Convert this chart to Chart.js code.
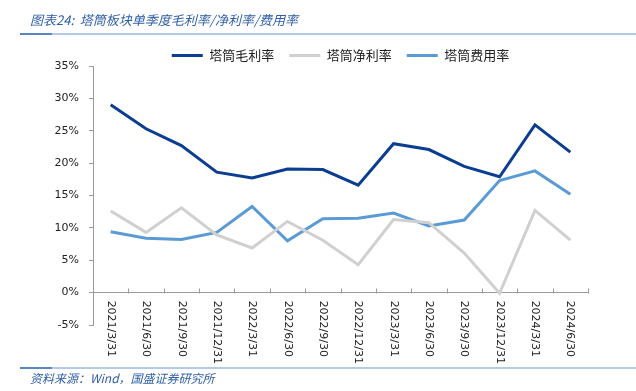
<!DOCTYPE html>
<html lang="zh">
<head>
  <meta charset="UTF-8">
  <title>塔筒板块单季度毛利率/净利率/费用率</title>
  <script src="https://cdn.jsdelivr.net/npm/chart.js"></script>
  <style>
    html, body { margin: 0; padding: 0; background: #fff; }
    body { width: 636px; height: 391px; position: relative; overflow: hidden; font-family: 'Noto Sans CJK SC', 'DejaVu Sans', sans-serif; }
    .title { position: absolute; left: 30px; top: 10px; font-size: 13px; font-style: italic; color: #2f5ea8; white-space: nowrap; line-height: 20px; }
    .rule { position: absolute; left: 20px; width: 616px; height: 2px; background: #b4c9e6; }
    .rule .dark { position: absolute; left: 0; top: 0; width: 32px; height: 2px; background: #5b86c4; }
    .source { position: absolute; left: 30px; top: 369px; font-size: 12px; font-style: italic; color: #2f5ea8; white-space: nowrap; line-height: 18px; }
    #wrap { position: absolute; left: 0; top: 0; width: 636px; height: 391px; }
  </style>
</head>
<body>

<div id="wrap"><canvas id="towerChart"></canvas></div>
<div class="title">图表24:&nbsp; 塔筒板块单季度毛利率/净利率/费用率</div>
<div class="rule" style="top:33px"><div class="dark"></div></div>
<div class="rule" style="top:367px"><div class="dark"></div></div>
<div class="source">资料来源：Wind，国盛证券研究所</div>

<script>
const quarters = ['2021/3/31','2021/6/30','2021/9/30','2021/12/31','2022/3/31','2022/6/30','2022/9/30',
                  '2022/12/31','2023/3/31','2023/6/30','2023/9/30','2023/12/31','2024/3/31','2024/6/30'];
const grossMargin = [29.0, 25.3, 22.7, 18.6, 17.7, 19.1, 19.0, 16.6, 23.0, 22.1, 19.5, 17.9, 25.9, 21.7];
const netMargin   = [12.6, 9.3, 13.1, 8.9, 6.9, 11.0, 8.1, 4.3, 11.3, 10.8, 6.1, -0.1, 12.7, 8.1];
const expenseRate = [9.4, 8.4, 8.2, 9.3, 13.3, 8.0, 11.4, 11.5, 12.3, 10.3, 11.2, 17.3, 18.8, 15.2];
const yTicks = [-5, 0, 5, 10, 15, 20, 25, 30, 35];

const axisGrey = '#9a9a9a';
const tickFont = { family: 'DejaVu Sans', size: 11 };

// axis line at 0% with small upward tick marks between the quarters
const zeroAxis = {
  id: 'zeroAxis',
  beforeDatasetsDraw(chart) {
    const { ctx, scales: { x, y } } = chart;
    const y0 = Math.round(y.getPixelForValue(0)) + 0.5;
    ctx.save();
    ctx.strokeStyle = axisGrey;
    ctx.lineWidth = 1;
    ctx.beginPath();
    for (let i = 0; i <= quarters.length; i++) {
      const px = Math.round(x.getPixelForValue(i - 0.5)) + 0.5;
      ctx.moveTo(px, y0);
      ctx.lineTo(px, y0 - 5);
    }
    ctx.stroke();
    ctx.restore();
  }
};

// rotated quarter labels read top-down and start just under the 0% line
const topAlignLabels = {
  id: 'topAlignLabels',
  beforeDraw(chart) {
    const x = chart.scales.x;
    x.getLabelItems(chart.chartArea).forEach(item => { item.options.textAlign = 'left'; });
  }
};

const line = (label, data, color) => ({
  label, data,
  borderColor: color, backgroundColor: color,
  borderWidth: 3, pointRadius: 0, pointHoverRadius: 0,
  tension: 0, fill: false
});

new Chart(document.getElementById('towerChart'), {
  type: 'line',
  data: {
    labels: quarters,
    datasets: [
      line('塔筒毛利率', grossMargin, '#0b3d91'),
      line('塔筒净利率', netMargin, '#d0d0d0'),
      line('塔筒费用率', expenseRate, '#5b9bd5')
    ]
  },
  options: {
    responsive: true,
    maintainAspectRatio: false,
    animation: false,
    events: [],
    layout: { padding: { top: 34, right: 48, bottom: 66, left: 0 } },
    plugins: {
      tooltip: { enabled: false },
      legend: {
        position: 'top',
        fullSize: false,
        maxHeight: 32,
        labels: {
          boxWidth: 31, boxHeight: 3, padding: 15,
          color: '#222',
          font: { family: 'Noto Sans CJK SC', size: 13 },
          generateLabels(chart) {
            return chart.data.datasets.map((ds, i) => ({
              text: ds.label, fillStyle: ds.borderColor, strokeStyle: ds.borderColor,
              lineWidth: 0, hidden: false, datasetIndex: i, fontColor: '#222'
            }));
          }
        }
      }
    },
    scales: {
      x: {
        position: { y: 0 },
        offset: true,
        grid: { display: false, drawTicks: false },
        border: { display: false },
        afterFit(scale) { scale.height = 0; },
        ticks: {
          autoSkip: false,
          minRotation: -90, maxRotation: -90,
          padding: 8,
          color: '#222',
          font: tickFont
        }
      },
      y: {
        min: -5, max: 35,
        afterFit(scale) { scale.width = 93; },
        afterBuildTicks(scale) { scale.ticks = yTicks.map(v => ({ value: v })); },
        border: { display: true, color: axisGrey },
        grid: {
          drawOnChartArea: true,
          color: c => (c.tick && c.tick.value === 0 ? axisGrey : 'rgba(0,0,0,0)'),
          tickColor: axisGrey,
          tickLength: 4
        },
        ticks: {
          padding: 10,
          color: '#222',
          font: tickFont,
          callback: v => v + '%'
        }
      }
    }
  },
  plugins: [zeroAxis, topAlignLabels]
});
</script>

</body>
</html>
